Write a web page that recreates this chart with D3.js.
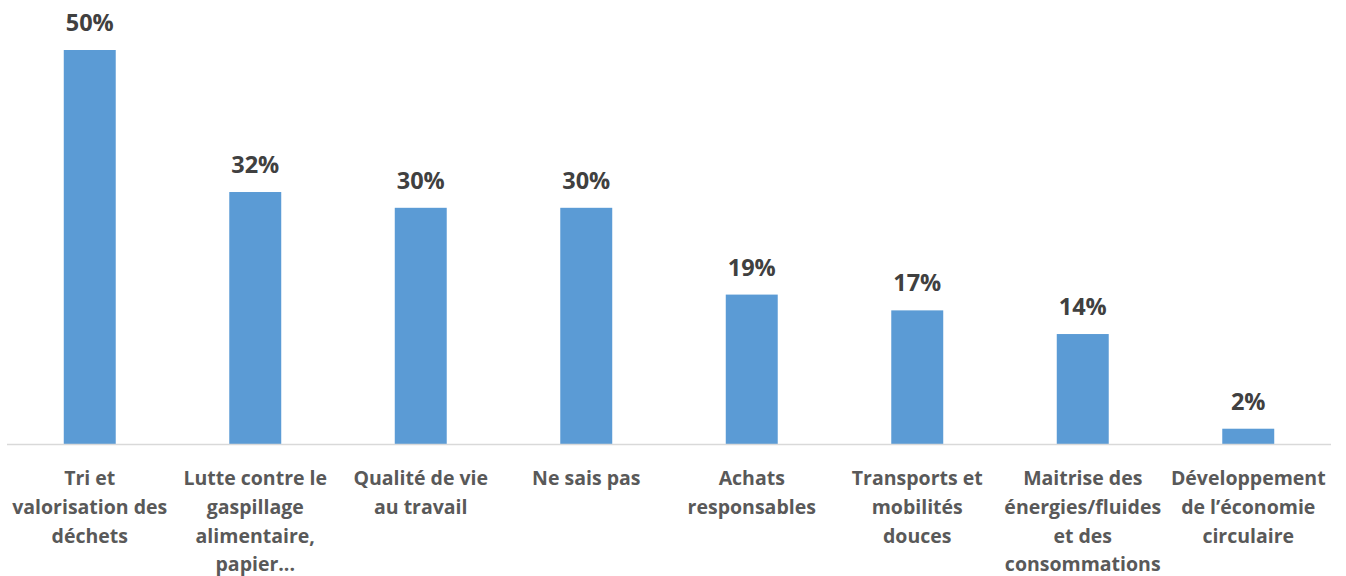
<!DOCTYPE html>
<html>
<head>
<meta charset="utf-8">
<script src="https://cdn.jsdelivr.net/npm/d3@7"></script>
<style>
  html, body { margin: 0; padding: 0; background: #fff; }
  svg { display: block; }
  text { font-family: "Open Sans", Lato, sans-serif; font-weight: bold; }
</style>
</head>
<body>
<svg id="chart" width="1346" height="576"></svg>
<script>
// Category labels, already split into lines
const categories = [
  ["Tri et", "valorisation des", "déchets"],
  ["Lutte contre le", "gaspillage", "alimentaire,", "papier..."],
  ["Qualité de vie", "au travail"],
  ["Ne sais pas"],
  ["Achats", "responsables"],
  ["Transports et", "mobilités", "douces"],
  ["Maitrise des", "énergies/fluides", "et des", "consommations"],
  ["Développement", "de l’économie", "circulaire"]
];
const values = [50, 32, 30, 30, 19, 17, 14, 2];

const svg = d3.select("#chart");
const baseline = 444.5;

const x = d3.scaleBand()
  .domain(d3.range(categories.length))
  .range([7, 1331])
  .paddingInner(0.686)
  .paddingOuter(0.343);

const y = d3.scaleLinear()
  .domain([0, 50])
  .range([baseline, 50]);

// Bars
svg.append("g")
  .selectAll("rect")
  .data(values)
  .join("rect")
  .attr("x", (d, i) => x(i))
  .attr("y", d => y(d))
  .attr("width", x.bandwidth())
  .attr("height", d => baseline - y(d))
  .attr("fill", "#5b9bd5");

// Category axis line
svg.append("line")
  .attr("x1", 7).attr("x2", 1331)
  .attr("y1", baseline).attr("y2", baseline)
  .attr("stroke", "#d9d9d9")
  .attr("stroke-width", 1.5);

// Value labels
svg.append("g")
  .selectAll("text")
  .data(values)
  .join("text")
  .attr("x", (d, i) => x(i) + x.bandwidth() / 2)
  .attr("y", d => y(d) - 19)
  .attr("text-anchor", "middle")
  .attr("font-size", 23.5)
  .attr("fill", "#404040")
  .text(d => d + "%");

// Category labels
const lab = svg.append("g")
  .selectAll("text")
  .data(categories)
  .join("text")
  .attr("text-anchor", "middle")
  .attr("font-size", 19.5)
  .attr("fill", "#595959");
lab.selectAll("tspan")
  .data((d, i) => d.map(line => ({ line, i })))
  .join("tspan")
  .attr("x", d => x(d.i) + x.bandwidth() / 2)
  .attr("y", (d, j) => 485 + j * 28.8)
  .text(d => d.line);
</script>
</body>
</html>
